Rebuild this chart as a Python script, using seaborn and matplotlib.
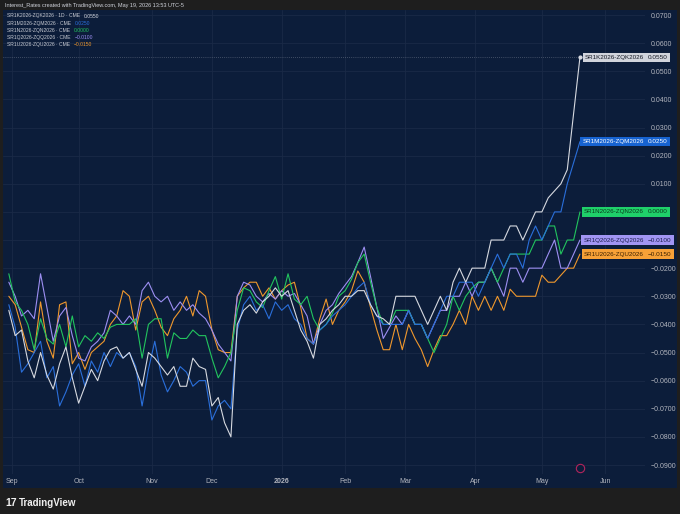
import numpy as np
import pandas as pd
import matplotlib
matplotlib.use("Agg")
import matplotlib.pyplot as plt
import matplotlib.transforms as mtransforms
from matplotlib.patches import Rectangle
from matplotlib.ticker import FuncFormatter
import seaborn as sns

# SR1 - ZQ spreads, in thousandths, every 2nd session (last one = May 19 2026)
sr1k = [-35, -44, -42, -53, -59, -50, -58, -63, -54, -48,
        -59, -68, -62, -56, -60, -53, -49, -48, -52, -50,
        -56, -62, -50, -52, -55, -58, -55, -62, -62, -52,
        -55, -56, -69, -66, -75, -80, -40, -35, -33, -36,
        -32, -30, -27, -30, -28, -35, -42, -46, -52, -40,
        -38, -35, -33, -30, -30, -28, -28, -33, -37, -38,
        -40, -30, -30, -30, -30, -35, -40, -35, -30, -35,
        -25, -20, -25, -20, -20, -20, -10, -10, -10, -5,
        -5, -10, -5, 0, 0, 5, 7.5, 10, 15, 35,
        55]
sr1m = [-33, -41, -57, -54, -50, -46, -59, -55, -69, -64,
        -58, -54, -62, -53, -57, -50, -55, -50, -52, -50,
        -55, -69, -56, -46, -58, -64, -60, -55, -57, -62,
        -60, -60, -74, -69, -67, -70, -42, -33, -30, -35,
        -33, -38, -32, -35, -33, -38, -40, -45, -47, -42,
        -40, -37, -35, -33, -30, -27, -25, -33, -37, -40,
        -40, -40, -40, -35, -40, -40, -45, -40, -35, -30,
        -30, -25, -25, -25, -30, -25, -20, -15, -20, -15,
        -15, -20, -10, -5, -10, -5, 0, 0, 10, 17.5,
        25]
sr1n = [-22, -32, -35, -40, -49, -38, -45, -47, -40, -48,
        -37, -48, -44, -46, -43, -45, -41, -40, -40, -40,
        -38, -52, -40, -38, -38, -52, -43, -45, -45, -42,
        -44, -44, -52, -59, -55, -50, -35, -27, -28, -32,
        -34, -28, -23, -31, -22, -31, -33, -30, -38, -42,
        -40, -36, -30, -28, -24, -18, -15, -25, -34, -40,
        -40, -35, -35, -35, -40, -40, -45, -50, -45, -40,
        -30, -35, -30, -27, -25, -25, -20, -25, -20, -15,
        -15, -15, -15, -10, -10, -5, -5, -15, -10, -10,
        0]
sr1q = [-25, -30, -37, -35, -38, -22, -34, -46, -37, -34,
        -44, -52, -53, -48, -46, -43, -35, -37, -40, -37,
        -40, -28, -25, -30, -32, -30, -35, -32, -35, -33,
        -36, -38, -42, -47, -50, -53, -30, -25, -26, -30,
        -32, -29, -31, -28, -30, -29, -33, -37, -47, -40,
        -35, -33, -29, -26, -23, -18, -12.5, -23, -34, -45,
        -41, -37, -40, -35, -40, -40, -45, -40, -35, -35,
        -30, -30, -25, -30, -25, -25, -20, -25, -30, -20,
        -20, -25, -20, -20, -20, -15, -10, -20, -20, -15,
        -10]
sr1u = [-30, -33, -41, -49, -50, -32, -46, -52, -33, -32,
        -54, -50, -56, -50, -48, -46, -40, -37, -28, -30,
        -42, -32, -30, -35, -41, -44, -38, -35, -30, -37,
        -28, -30, -42, -49, -50, -50, -30, -27, -25, -25,
        -30, -27, -31, -28, -26, -25, -34, -45, -47, -38,
        -31, -40, -35, -32, -28, -21, -25, -34, -42, -49,
        -49, -40, -49, -40, -45, -49, -55, -49, -44, -44,
        -40, -35, -40, -30, -35, -30, -35, -30, -35, -27.5,
        -30, -30, -30, -30, -22.5, -25, -25, -22.5, -20, -20,
        -15]

names = ["SR1K2026-ZQK2026", "SR1M2026-ZQM2026", "SR1N2026-ZQN2026",
         "SR1Q2026-ZQQ2026", "SR1U2026-ZQU2026"]
legend_tags = [" · 1D · CME", " · CME", " · CME", " · CME", " · CME"]
line_cols = ["#d6d9e0", "#2a6fdb", "#22c55e", "#9d8ff2", "#f0982d"]
box_cols = ["#d1d4dc", "#1763d1", "#1fd06a", "#a195f3", "#f7a137"]
box_text = ["#131722", "#ffffff", "#0a3a1c", "#1b1d4d", "#3b2000"]

month_labels = ["Sep", "Oct", "Nov", "Dec", "2026", "Feb", "Mar", "Apr", "May", "Jun"]
y_ticks = [0.07, 0.06, 0.05, 0.04, 0.03, 0.02, 0.01, 0.0,
           -0.01, -0.02, -0.03, -0.04, -0.05, -0.06, -0.07, -0.08, -0.09]

holidays = ["2025-09-01", "2025-11-27", "2025-12-25", "2026-01-01",
            "2026-01-19", "2026-02-16", "2026-04-03", "2026-05-25"]
cal = pd.bdate_range("2025-08-28", "2026-06-30", freq="C", holidays=holidays)
end = cal.get_loc(pd.Timestamp("2026-05-19"))
pos = np.arange(end, -1, -2)[::-1]
month_pos = [int(np.argmax(cal >= m)) for m in pd.date_range("2025-09-01", "2026-06-01", freq="MS")]

series = [sr1k, sr1m, sr1n, sr1q, sr1u]
last_vals = [v[-1] / 1000 for v in series]
df = pd.concat([pd.DataFrame({"pos": pos, "value": np.array(v) / 1000, "series": n})
                for n, v in zip(names, series)])

navy = "#0c1d3a"
frame = "#1e1e1e"
grid_c = "#1a2a46"
txt_c = "#b2b5be"


def fmt(v):
    return f"{v:.4f}".replace("-", "\u2212")


def tick_fmt(v, p):
    # price scale labels hidden under the last-value boxes
    if any(abs(v - lv) < 0.003 for lv in last_vals):
        return ""
    return fmt(v)


sns.set_theme(style="dark")
plt.rcParams["font.family"] = ["Liberation Sans", "DejaVu Sans"]

fig = plt.figure(figsize=(6.8, 5.14), dpi=100, facecolor=frame)
fig.patches.append(Rectangle((3 / 680, 26 / 514), 674 / 680, 478 / 514, transform=fig.transFigure,
                             fc=navy, ec="none", zorder=-10))
ax = fig.add_axes([3 / 680, 40 / 514, 642 / 680, 464 / 514])
ax.set_facecolor(navy)

sns.lineplot(data=df, x="pos", y="value", hue="series", hue_order=names[::-1],
             palette=dict(zip(names, line_cols)), linewidth=0.8, legend=False,
             errorbar=None, ax=ax)

ax.set_xlim(-0.835, 201.5)
ax.set_ylim(-0.0932, 0.0718)
ax.set_xticks(month_pos)
ax.set_xticklabels(month_labels)
ax.set_yticks(y_ticks)
ax.yaxis.tick_right()
ax.yaxis.set_major_formatter(FuncFormatter(tick_fmt))
ax.tick_params(axis="both", length=0, labelsize=5, labelcolor=txt_c)
ax.tick_params(axis="x", pad=3)
ax.tick_params(axis="y", pad=4)
ax.get_xticklabels()[4].set_fontweight("bold")
ax.grid(True, color=grid_c, linewidth=0.6)
ax.set_xlabel("")
ax.set_ylabel("")
for s in ax.spines.values():
    s.set_visible(False)

# last price line and dot for the K spread
ax.axhline(last_vals[0], color="#d1d4dc", lw=0.5, ls=(0, (1, 2)), alpha=0.5, zorder=1)
ax.plot(pos[-1], last_vals[0], "o", ms=2, color=line_cols[0], zorder=4)

# event marker on the time axis
tr_x = mtransforms.blended_transform_factory(ax.transData, ax.transAxes)
ax.plot(pos[-1], 0.013, "o", ms=6, mfc=navy, mec="#b3245c", mew=0.8, transform=tr_x,
        clip_on=False, zorder=5)

# right side labels
tr_y = mtransforms.blended_transform_factory(ax.transAxes, ax.transData)
for n, val, fc, tc in zip(names, last_vals, box_cols, box_text):
    ax.text(0.9985, val, n, transform=tr_y, ha="right", va="center", fontsize=4.5, color=tc,
            bbox=dict(boxstyle="square,pad=0.35", fc=fc, ec="none"), zorder=6, clip_on=False)
    ax.text(1.0045, val, fmt(val), transform=tr_y, ha="left", va="center",
            fontsize=4.6, color=tc, bbox=dict(boxstyle="square,pad=0.35", fc=fc, ec="none"),
            zorder=6, clip_on=False)

# header and legend
fig.text(5 / 680, 1 - 5 / 514, "Interest_Rates created with TradingView.com, May 19, 2026 13:53 UTC-5",
         fontsize=4, color="#d1d4dc", va="center")
renderer = fig.canvas.get_renderer()
for i, (n, tag, val, c) in enumerate(zip(names, legend_tags, last_vals, line_cols)):
    yy = 1 - (16 + 7.1 * i) / 514
    t = fig.text(7 / 680, yy, n + tag, fontsize=3.6, color="#c8cbd3", va="center")
    x_end = t.get_window_extent(renderer).x1
    fig.text((x_end + 4) / 680, yy, fmt(val), fontsize=3.6, color=c, va="center")

fig.text(5 / 680, 1 - 503 / 514, "17", fontsize=7.5, fontweight="heavy", color="#f0f0f0", va="center")
fig.text(19 / 680, 1 - 503 / 514, "TradingView", fontsize=7, fontweight="bold", color="#f0f0f0", va="center")

fig.savefig("out.png", dpi=100, facecolor=frame)
